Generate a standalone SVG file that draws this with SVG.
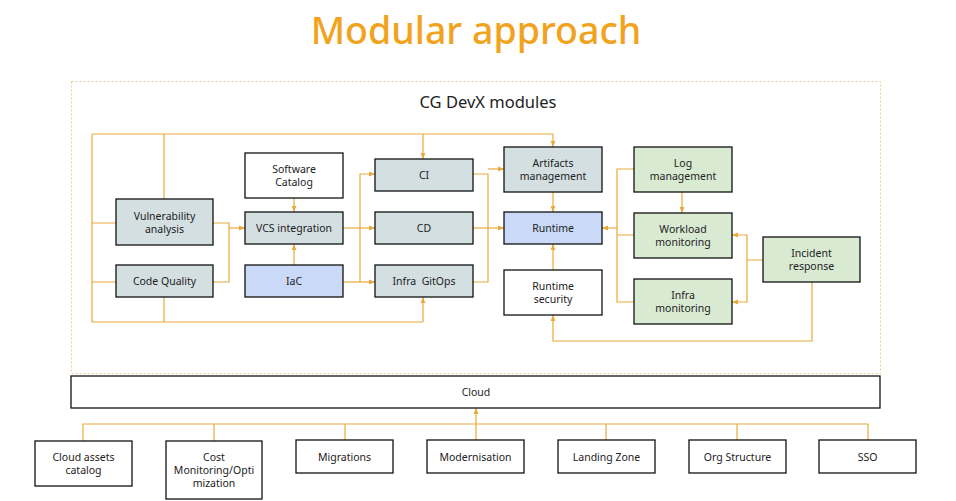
<svg xmlns="http://www.w3.org/2000/svg" width="956" height="501" viewBox="0 0 956 501">
<defs>
<style>
.t{font-family:"Noto Sans","Open Sans","DejaVu Sans",sans-serif;font-size:10.5px;fill:#222;text-anchor:middle;dominant-baseline:central}
.b{stroke:#111;stroke-width:1.3}
.g{fill:#d3dfe1}
.bl{fill:#c9d9f7}
.gr{fill:#d9ead3}
.w{fill:#fff}
.c{fill:none;stroke:#e8a93a;stroke-width:1.2}
</style>
<marker id="a" viewBox="0 0 10 10" refX="10" refY="5" markerWidth="6" markerHeight="6" orient="auto" markerUnits="userSpaceOnUse">
<path d="M0,1 L10,5 L0,9 z" fill="#e8a93a"/>
</marker>
</defs>
<rect width="956" height="501" fill="#fff"/>
<text x="476" y="44" style="font-family:'Noto Sans','Open Sans',sans-serif;font-size:37.5px;font-weight:500;fill:#f2a31e;text-anchor:middle">Modular approach</text>
<rect x="71.5" y="81.5" width="809" height="292" fill="none" stroke="#e6cf98" stroke-width="1" stroke-dasharray="2,2"/>
<text x="488" y="101" class="t" style="font-size:16.5px">CG DevX modules</text>

<g id="connectors">
<path class="c" d="M92,134 H553 M92,134 V322 H423 M164,134 V199 M92,223 H116 M92,282 H116 M164,297 V322"/>
<path class="c" d="M553,134 V147" marker-end="url(#a)"/>
<path class="c" d="M423,134 V159" marker-end="url(#a)"/>
<path class="c" d="M423,322 V297" marker-end="url(#a)"/>
<path class="c" d="M213,223 H229 V282 H213"/>
<path class="c" d="M229,228 H245" marker-end="url(#a)"/>
<path class="c" d="M294,198 V212" marker-end="url(#a)"/>
<path class="c" d="M294,265 V244" marker-end="url(#a)"/>
<path class="c" d="M343,228 H375" marker-end="url(#a)"/>
<path class="c" d="M343,282 H375" marker-end="url(#a)"/>
<path class="c" d="M360,282 V174 H375" marker-end="url(#a)"/>
<path class="c" d="M473,174 H488 V282 H473"/>
<path class="c" d="M488,169 H504" marker-end="url(#a)"/>
<path class="c" d="M473,228 H504" marker-end="url(#a)"/>
<path class="c" d="M553,192 V212" marker-end="url(#a)"/>
<path class="c" d="M553,270 V244" marker-end="url(#a)"/>
<path class="c" d="M812,282 V341 H553 V315" marker-end="url(#a)"/>
<path class="c" d="M634,169 H617 V302 H634 M617,235 H634"/>
<path class="c" d="M617,228 H602" marker-end="url(#a)"/>
<path class="c" d="M682,192 V213" marker-end="url(#a)"/>
<path class="c" d="M763,260 H747 V235 H732" marker-end="url(#a)"/>
<path class="c" d="M747,260 V302 H732" marker-end="url(#a)"/>
<path class="c" d="M83,441 V424 H868 V440 M214,424 V441 M345,424 V440 M606,424 V440 M737,424 V440"/>
<path class="c" d="M476,440 V408" marker-end="url(#a)"/>
</g>

<g id="vuln"><rect x="116" y="199" width="97" height="46" class="b g"/><text class="t" x="164.5" y="216">Vulnerability</text><text class="t" x="164.5" y="228.5">analysis</text></g>
<g id="codequality"><rect x="116" y="265" width="97" height="32" class="b g"/><text class="t" x="164.5" y="281">Code Quality</text></g>
<g id="softcat"><rect x="245" y="153" width="98" height="45" class="b w"/><text class="t" x="294" y="169">Software</text><text class="t" x="294" y="181.5">Catalog</text></g>
<g id="vcs"><rect x="245" y="212" width="98" height="32" class="b g"/><text class="t" x="294" y="228">VCS integration</text></g>
<g id="iac"><rect x="245" y="265" width="98" height="32" class="b bl"/><text class="t" x="294" y="281">IaC</text></g>
<g id="ci"><rect x="375" y="159" width="98" height="32" class="b g"/><text class="t" x="424" y="175">CI</text></g>
<g id="cd"><rect x="375" y="212" width="98" height="32" class="b g"/><text class="t" x="424" y="228">CD</text></g>
<g id="infragitops"><rect x="375" y="265" width="98" height="32" class="b g"/><text class="t" x="424" y="281" xml:space="preserve">Infra  GitOps</text></g>
<g id="artifacts"><rect x="504" y="147" width="98" height="45" class="b g"/><text class="t" x="553" y="163">Artifacts</text><text class="t" x="553" y="175.5">management</text></g>
<g id="runtime"><rect x="504" y="212" width="98" height="32" class="b bl"/><text class="t" x="553" y="228">Runtime</text></g>
<g id="runtimesec"><rect x="504" y="270" width="98" height="45" class="b w"/><text class="t" x="553" y="286">Runtime</text><text class="t" x="553" y="299">security</text></g>
<g id="logmgmt"><rect x="634" y="147" width="98" height="45" class="b gr"/><text class="t" x="683" y="163">Log</text><text class="t" x="683" y="175.5">management</text></g>
<g id="workload"><rect x="634" y="213" width="98" height="45" class="b gr"/><text class="t" x="683" y="229">Workload</text><text class="t" x="683" y="241.5">monitoring</text></g>
<g id="inframon"><rect x="634" y="279" width="98" height="45" class="b gr"/><text class="t" x="683" y="295">Infra</text><text class="t" x="683" y="308">monitoring</text></g>
<g id="incident"><rect x="763" y="237" width="97" height="45" class="b gr"/><text class="t" x="811.5" y="252.5">Incident</text><text class="t" x="811.5" y="265.5">response</text></g>

<g id="cloud"><rect x="71" y="376" width="809" height="32" class="b w"/><text class="t" x="476" y="392">Cloud</text></g>
<g id="cloudassets"><rect x="35" y="441" width="97" height="45" class="b w"/><text class="t" x="83.5" y="457">Cloud assets</text><text class="t" x="83.5" y="470">catalog</text></g>
<g id="cost"><rect x="166" y="441" width="96" height="58" class="b w"/><text class="t" x="214" y="457">Cost</text><text class="t" x="214" y="470">Monitoring/Opti</text><text class="t" x="214" y="482.5">mization</text></g>
<g id="migrations"><rect x="296" y="440" width="97" height="33" class="b w"/><text class="t" x="344.5" y="456.5">Migrations</text></g>
<g id="modernisation"><rect x="427" y="440" width="97" height="33" class="b w"/><text class="t" x="475.5" y="456.5">Modernisation</text></g>
<g id="landingzone"><rect x="558" y="440" width="97" height="33" class="b w"/><text class="t" x="606.5" y="456.5">Landing Zone</text></g>
<g id="orgstructure"><rect x="689" y="440" width="97" height="33" class="b w"/><text class="t" x="737.5" y="456.5">Org Structure</text></g>
<g id="sso"><rect x="819" y="440" width="97" height="33" class="b w"/><text class="t" x="867.5" y="456.5">SSO</text></g>
</svg>
